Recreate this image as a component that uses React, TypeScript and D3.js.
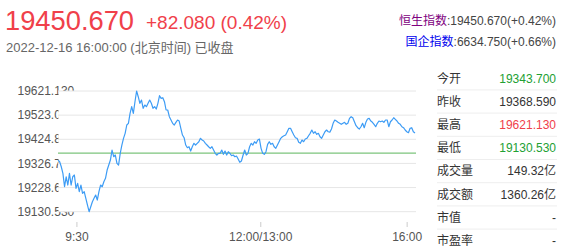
import React from "react";
import * as d3 from "d3";

const prices: number[] = [
  19340.5, 19333.6, 19313.3, 19286.5, 19232.0, 19272.6, 19238.9, 19286.5, 19238.9, 19272.6,
  19279.6, 19225.5, 19245.8, 19211.7, 19238.9, 19205.1, 19211.7, 19184.8, 19157.6, 19130.5,
  19150.7, 19171.0, 19184.8, 19198.2, 19177.9, 19211.7, 19238.9, 19232.0, 19252.3, 19266.1,
  19299.9, 19320.2, 19340.5, 19381.2, 19354.0, 19360.9, 19327.1, 19320.2, 19367.8, 19401.5,
  19428.8, 19449.1, 19482.9, 19489.8, 19530.4, 19557.3, 19530.4, 19577.6, 19621.1, 19597.9,
  19571.1, 19584.5, 19550.8, 19564.2, 19557.3, 19571.1, 19584.5, 19571.1, 19550.8, 19557.3,
  19547.9, 19571.1, 19602.0, 19591.4, 19593.9, 19577.6, 19543.9, 19543.9, 19516.6, 19503.2,
  19489.8, 19482.9, 19493.8, 19503.2, 19499.1, 19469.4, 19442.2, 19431.2, 19401.5, 19390.6,
  19394.6, 19377.1, 19394.6, 19408.4, 19401.5, 19408.4, 19415.0, 19428.8, 19421.9, 19417.8,
  19408.4, 19401.5, 19394.6, 19388.1, 19394.6, 19381.2, 19367.8, 19360.9, 19367.8, 19367.8,
  19381.2, 19363.7, 19377.1, 19360.9, 19374.3, 19367.8, 19358.0, 19360.9, 19354.0, 19356.8,
  19344.6, 19331.2, 19336.5, 19360.0,
  19381.2, 19360.9, 19367.8, 19394.6, 19408.4, 19401.5, 19415.0, 19408.4, 19421.9, 19425.9,
  19388.1, 19367.8, 19363.7, 19374.3, 19404.4, 19415.0, 19404.4, 19408.4, 19394.6, 19388.1,
  19401.5, 19415.0, 19428.8, 19435.3, 19439.3, 19442.2, 19455.6, 19469.4, 19469.4, 19455.6,
  19442.2, 19431.2, 19428.8, 19412.5, 19408.4, 19421.9, 19415.0, 19425.9, 19428.8, 19439.3,
  19449.1, 19462.5, 19449.1, 19455.6, 19445.0, 19449.1, 19435.3, 19428.8, 19442.2, 19455.6,
  19462.5, 19455.6, 19454.0, 19466.6,
  19489.8, 19503.2, 19499.1, 19493.8, 19489.8, 19485.7, 19489.8, 19493.8, 19485.7, 19489.8,
  19510.1, 19516.6, 19512.5, 19496.3, 19480.0, 19471.9, 19466.6, 19475.9, 19489.8, 19471.9,
  19493.8, 19507.3, 19510.1, 19499.1, 19493.8, 19485.7, 19475.9, 19489.8, 19499.1, 19496.3,
  19499.1, 19493.8, 19503.2, 19503.2, 19475.9, 19496.3, 19503.2, 19512.5, 19506.0, 19499.1,
  19489.8, 19485.7, 19475.9, 19471.9, 19462.5, 19455.6, 19451.5, 19469.4, 19471.9, 19455.6,
  19450.67,
];

const prevClose = 19368.59;
const yTickValues: number[] = [19621.13, 19523.01, 19424.88, 19326.77, 19228.65, 19130.53];
const yTickLabels: string[] = ["19621.130", "19523.010", "19424.880", "19326.770", "19228.650", "19130.530"];
const xTickLabels: string[] = ["9:30", "12:00/13:00", "16:00"];
const xTickFractions: number[] = [0.053, 0.568, 0.978];

const headerPrice = "19450.670";
const headerChange = "+82.080 (0.42%)";
const headerTime = "2022-12-16 16:00:00 (北京时间) 已收盘";
const indexNames: string[] = ["恒生指数", "国企指数"];
const indexValues: string[] = [":19450.670(+0.42%)", ":6634.750(+0.66%)"];
const statLabels: string[] = ["今开", "昨收", "最高", "最低", "成交量", "成交额", "市值", "市盈率"];
const statValues: string[] = ["19343.700", "19368.590", "19621.130", "19130.530", "149.32亿", "1360.26亿", "-", "-"];
const statKinds: string[] = ["down", "flat", "up", "down", "flat", "flat", "flat", "flat"];

const FONT = "'Liberation Sans', Arial, 'Noto Sans CJK SC', sans-serif";
const RED = "#f0404a";
const GREEN = "#22a033";
const DARK = "#333";

export default function App() {
  const W = 565, H = 251;
  const plot = { left: 58, right: 415, top: 91, bottom: 211.7 };
  const n = prices.length;
  const x = d3.scaleLinear().domain([0, n - 1]).range([plot.left, plot.right]);
  const y = d3
    .scaleLinear()
    .domain([yTickValues[yTickValues.length - 1], yTickValues[0]])
    .range([plot.bottom, plot.top]);
  const line = d3
    .line<number>()
    .x((_, i) => x(i))
    .y((d) => y(d));

  const kindColor = (k: string) => (k === "up" ? RED : k === "down" ? GREEN : DARK);
  const rowY0 = 78.3;
  const rowStep = 23.2;

  return (
    <svg
      width={W}
      height={H}
      style={{ position: "absolute", left: 0, top: 0, background: "#fff" }}
      fontFamily={FONT}
    >
      {/* header */}
      <text x={5} y={30} fontSize={27.3} fill={RED}>{headerPrice}</text>
      <text x={146} y={28.5} fontSize={19} fill={RED}>{headerChange}</text>
      <text x={6} y={51.5} fontSize={13} fill="#666">{headerTime}</text>

      {indexNames.map((name, i) => (
        <text key={name} x={556} y={25 + i * 21} fontSize={12} textAnchor="end">
          <tspan fill={i === 0 ? "#800080" : "#0000ee"}>{name}</tspan>
          <tspan fill="#444">{indexValues[i]}</tspan>
        </text>
      ))}

      {/* y labels (under plot background) */}
      {yTickValues.map((v, i) => (
        <text key={v} x={17.5} y={y(v)} dy="0.35em" fontSize={12} fill="#555">
          {yTickLabels[i]}
        </text>
      ))}
      <rect x={plot.left + 0.5} y={plot.top} width={plot.right - plot.left + 1} height={plot.bottom - plot.top} fill="#fff" />

      {/* grid */}
      {yTickValues.map((v) => (
        <line key={"g" + v} x1={plot.left} x2={plot.right + 1} y1={y(v)} y2={y(v)} stroke="#e6e6e6" strokeWidth={1} />
      ))}
      <line x1={plot.left} x2={plot.right + 1} y1={y(prevClose)} y2={y(prevClose)} stroke="#7cc47c" strokeWidth={1.3} />
      <path d={line(prices) || ""} fill="none" stroke="#3d9cf5" strokeWidth={1.2} strokeLinejoin="round" />

      {/* x axis ticks */}
      {xTickLabels.map((lab, i) => {
        const xp = x(xTickFractions[i] * (n - 1));
        return (
          <g key={lab}>
            <line x1={xp} x2={xp} y1={222} y2={227} stroke="#ccc" />
            <text x={xp} y={240.5} fontSize={12} fill="#555" textAnchor="middle">{lab}</text>
          </g>
        );
      })}

      {/* right stats panel */}
      {statLabels.map((lab, i) => {
        const cy = rowY0 + i * rowStep;
        return (
          <g key={lab}>
            <text x={437} y={cy} dy="0.35em" fontSize={12} fill={DARK}>{lab}</text>
            <text x={556} y={cy} dy="0.35em" fontSize={12} fill={kindColor(statKinds[i])} textAnchor="end">
              {statValues[i]}
            </text>
            {i < statLabels.length - 1 && (
              <line x1={437} x2={557} y1={cy + rowStep / 2} y2={cy + rowStep / 2} stroke="#eee" />
            )}
          </g>
        );
      })}
    </svg>
  );
}
